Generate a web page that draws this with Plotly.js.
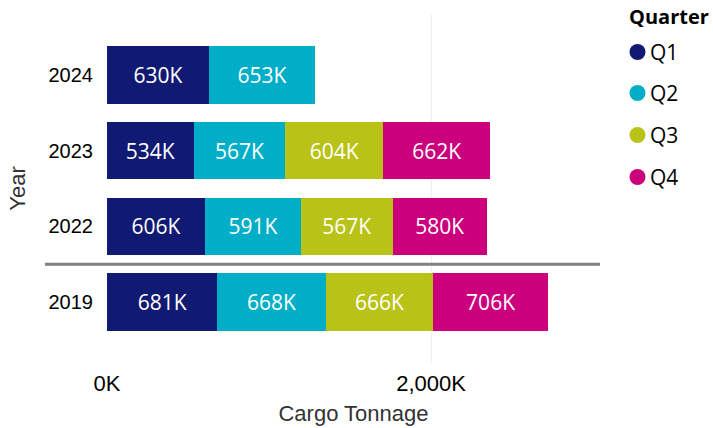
<!DOCTYPE html>
<html>
<head>
<meta charset="utf-8">
<script src="https://cdn.plot.ly/plotly-3.0.1.min.js"></script>
<style>html,body{margin:0;padding:0;background:#fff;}#chart{width:713px;height:428px;}</style>
</head>
<body>
<div id="chart"></div>
<script>
// Data (thousands of tonnes)
var years = ['2019', '2022', '2023', '2024'];
var quarters = ['Q1', 'Q2', 'Q3', 'Q4'];
var q1 = [681, 606, 534, 630];
var q2 = [668, 591, 567, 653];
var q3 = [666, 567, 604, null];
var q4 = [706, 580, 662, null];
var tickVals = [0, 2000];
var tickText = ['0K', '2,000K'];

var colors = ['#111A72', '#00AEC7', '#B8C217', '#CC007D'];
var series = [q1, q2, q3, q4];

var traces = series.map(function (vals, i) {
  return {
    type: 'bar',
    orientation: 'h',
    name: quarters[i],
    y: years,
    x: vals,
    text: vals.map(function (v) { return v == null ? '' : v + 'K'; }),
    textposition: 'inside',
    insidetextanchor: 'middle',
    constraintext: 'none',
    textfont: { color: '#ffffff', size: 21, family: 'Open Sans, Noto Sans, sans-serif' },
    marker: { color: colors[i], line: { width: 0 } },
    hoverinfo: 'none',
    showlegend: false
  };
});

// plot area geometry (pixels) for legend placement
var L = 107, R = 600, T = 14, B = 363;
var W = R - L, H = B - T;
function px(x) { return (x - L) / W; }
function py(y) { return (B - y) / H; }

var legendY = [52, 93, 135, 177];
var shapes = [{
  type: 'line', xref: 'paper', yref: 'y',
  x0: px(45), x1: 1, y0: 0.5, y1: 0.5,
  line: { color: '#808080', width: 3 }
}];
var annotations = [{
  xref: 'paper', yref: 'paper', x: px(627), y: py(17),
  xanchor: 'left', yanchor: 'middle', showarrow: false,
  text: '<b>Quarter</b>',
  font: { size: 20, color: '#000000', family: 'Open Sans, Noto Sans, sans-serif' }
}];
quarters.forEach(function (q, i) {
  shapes.push({
    type: 'circle', xref: 'paper', yref: 'paper',
    xsizemode: 'pixel', ysizemode: 'pixel',
    xanchor: px(637.5), yanchor: py(legendY[i]),
    x0: -8, x1: 8, y0: -8, y1: 8,
    fillcolor: colors[i], line: { width: 0 }
  });
  annotations.push({
    xref: 'paper', yref: 'paper', x: px(648), y: py(legendY[i]),
    xanchor: 'left', yanchor: 'middle', showarrow: false,
    text: q,
    font: { size: 21, color: '#000000', family: 'Open Sans, Noto Sans, sans-serif' }
  });
});

var layout = {
  width: 713, height: 428,
  margin: { l: L, r: 713 - R, t: T, b: 428 - B, pad: 0 },
  paper_bgcolor: '#ffffff', plot_bgcolor: '#ffffff',
  barmode: 'stack',
  bargap: 0.24,
  showlegend: false,
  xaxis: {
    range: [0, (R - L) / 0.162],
    tickvals: tickVals, ticktext: tickText,
    showgrid: true, gridcolor: '#eeeeee', gridwidth: 1,
    zeroline: false, showline: false, ticks: '',
    ticklabelstandoff: 5,
    tickfont: { size: 22, color: '#000000', family: 'Liberation Sans, Arial, sans-serif' },
    title: { text: 'Cargo Tonnage', standoff: 10,
      font: { size: 22, color: '#333333', family: 'Liberation Sans, Arial, sans-serif' } },
    fixedrange: true
  },
  yaxis: {
    type: 'category',
    categoryorder: 'array', categoryarray: years,
    range: [-0.8, 3.8],
    showgrid: false, zeroline: false, showline: false,
    ticks: '', ticklabelstandoff: 13,
    tickfont: { size: 20, color: '#000000', family: 'Liberation Sans, Arial, sans-serif' },
    title: { text: 'Year', standoff: 16,
      font: { size: 22, color: '#333333', family: 'Liberation Sans, Arial, sans-serif' } },
    fixedrange: true
  },
  shapes: shapes,
  annotations: annotations
};

Plotly.newPlot('chart', traces, layout, { staticPlot: true, displayModeBar: false });
</script>
</body>
</html>
